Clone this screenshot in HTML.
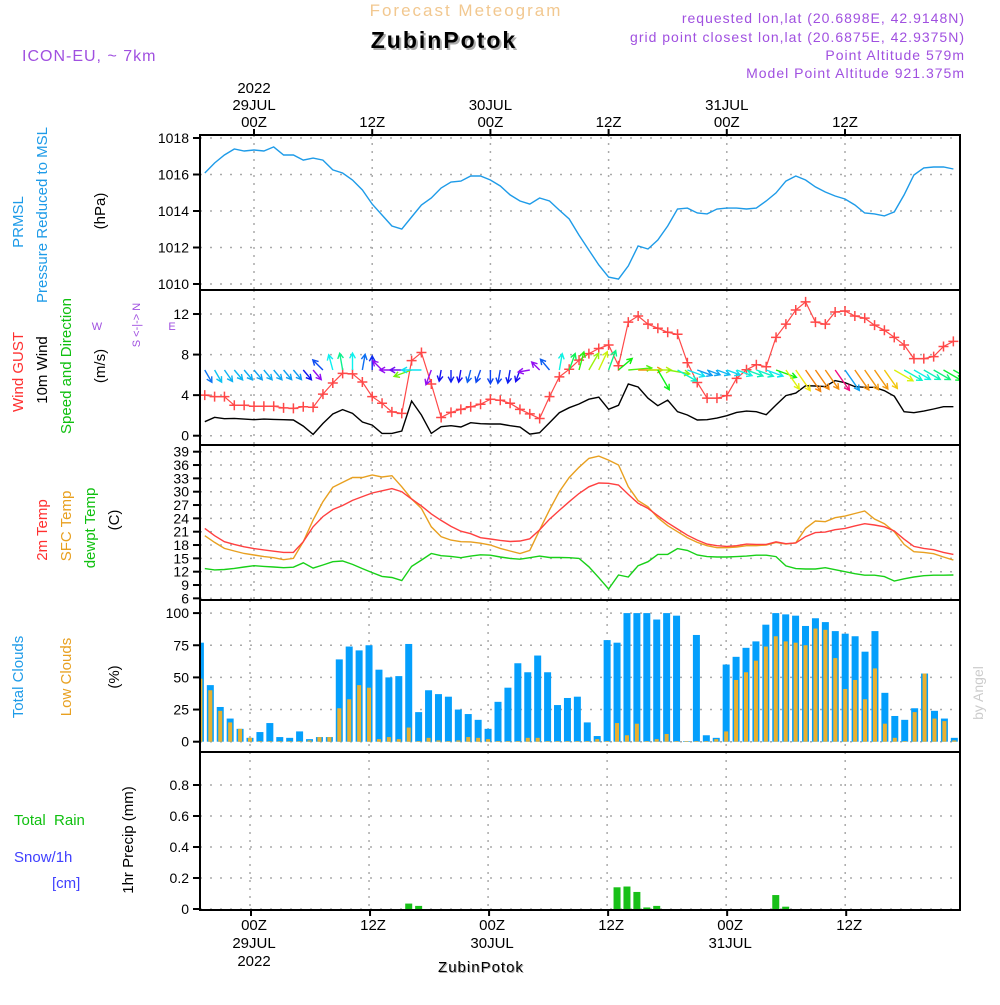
<!DOCTYPE html>
<html><head><meta charset="utf-8"><style>
body{margin:0;background:#fff;width:1000px;height:1000px;overflow:hidden;font-family:"Liberation Sans",sans-serif}
svg text{font-family:"Liberation Sans",sans-serif}
</style></head><body>
<svg id="chart" width="1000" height="1000" viewBox="0 0 1000 1000" xmlns="http://www.w3.org/2000/svg">
<g>
<text x="466" y="16" font-size="17" fill="#f2c890" text-anchor="middle" letter-spacing="2">Forecast Meteogram</text>
<text x="965" y="23" font-size="14" fill="#a050e0" text-anchor="end" letter-spacing="1">requested lon,lat (20.6898E, 42.9148N)</text>
<text x="965" y="42" font-size="14" fill="#a050e0" text-anchor="end" letter-spacing="1">grid point closest lon,lat (20.6875E, 42.9375N)</text>
<text x="446" y="50" font-size="23" font-weight="bold" fill="#aaa" text-anchor="middle" letter-spacing="2">ZubinPotok</text>
<text x="444" y="48" font-size="23" font-weight="bold" fill="#000" text-anchor="middle" letter-spacing="2">ZubinPotok</text>
<text x="965" y="60" font-size="14" fill="#a050e0" text-anchor="end" letter-spacing="1">Point Altitude 579m</text>
<text x="965" y="78" font-size="14" fill="#a050e0" text-anchor="end" letter-spacing="1">Model Point Altitude 921.375m</text>
<text x="22" y="61" font-size="16" fill="#a050e0" letter-spacing="1">ICON-EU, ~ 7km</text>
<text transform="translate(983,693) rotate(-90)" font-size="14" fill="#ccc" text-anchor="middle" font-family="Liberation Serif">by Angel</text>
<text x="482" y="973" font-size="15" fill="#aaa" text-anchor="middle" letter-spacing="1">ZubinPotok</text>
<text x="481" y="972" font-size="15" fill="#000" text-anchor="middle" letter-spacing="1">ZubinPotok</text>
</g>
<g font-size="15">
<text transform="translate(23,222) rotate(-90)" fill="#1e9be8" text-anchor="middle">PRMSL</text>
<text transform="translate(47,215) rotate(-90)" fill="#1e9be8" text-anchor="middle">Pressure Reduced to MSL</text>
<text transform="translate(105,211) rotate(-90)" fill="#000" text-anchor="middle">(hPa)</text>
<text transform="translate(23,372) rotate(-90)" fill="#ff3030" text-anchor="middle">Wind GUST</text>
<text transform="translate(47,370) rotate(-90)" fill="#000" text-anchor="middle">10m Wind</text>
<text transform="translate(71,366) rotate(-90)" fill="#10c010" text-anchor="middle">Speed and Direction</text>
<text transform="translate(105,366) rotate(-90)" fill="#000" text-anchor="middle">(m/s)</text>
<text transform="translate(140,325) rotate(-90)" fill="#a050e0" font-size="11" text-anchor="middle">S &lt;-|-&gt; N</text>
<text x="97" y="330" fill="#a050e0" font-size="11" text-anchor="middle">W</text>
<text x="172" y="330" fill="#a050e0" font-size="11" text-anchor="middle">E</text>
<text transform="translate(47,530) rotate(-90)" fill="#ff3030" text-anchor="middle">2m Temp</text>
<text transform="translate(71,526) rotate(-90)" fill="#e8a020" text-anchor="middle">SFC Temp</text>
<text transform="translate(95,528) rotate(-90)" fill="#10c010" text-anchor="middle">dewpt Temp</text>
<text transform="translate(119,520) rotate(-90)" fill="#000" text-anchor="middle">(C)</text>
<text transform="translate(23,677) rotate(-90)" fill="#1e9be8" text-anchor="middle">Total Clouds</text>
<text transform="translate(71,677) rotate(-90)" fill="#e8a020" text-anchor="middle">Low Clouds</text>
<text transform="translate(119,677) rotate(-90)" fill="#000" text-anchor="middle">(%)</text>
<text x="14" y="825" fill="#10c010" xml:space="preserve">Total  Rain</text>
<text x="14" y="862" fill="#4040ff">Snow/1h</text>
<text x="52" y="888" fill="#4040ff">[cm]</text>
<text transform="translate(133,840) rotate(-90)" fill="#000" text-anchor="middle">1hr Precip (mm)</text>
</g>
<g id="plots"></g>
</svg>
<script>
const pressure=[1016.08,1016.63,1017.07,1017.40,1017.29,1017.34,1017.29,1017.51,1017.07,1017.07,1016.79,1016.90,1016.79,1016.25,1016.08,1015.70,1015.15,1014.38,1013.78,1013.18,1013.01,1013.67,1014.33,1014.71,1015.26,1015.59,1015.64,1015.92,1015.92,1015.70,1015.37,1014.88,1014.55,1014.38,1014.71,1014.55,1014.05,1013.56,1012.68,1011.86,1011.04,1010.38,1010.27,1010.99,1012.08,1011.92,1012.41,1013.18,1014.11,1014.16,1013.89,1013.84,1014.11,1014.16,1014.16,1014.11,1014.16,1014.55,1014.99,1015.64,1015.92,1015.70,1015.32,1015.04,1014.82,1014.66,1014.33,1013.89,1013.84,1013.73,1013.95,1014.88,1015.97,1016.36,1016.41,1016.41,1016.30];
const gust=[4.0,3.85,3.85,3.0,3.0,2.9,2.9,2.9,2.75,2.7,2.85,2.8,4.1,5.2,6.15,6.1,5.3,3.85,3.2,2.35,2.2,7.4,8.2,5.1,1.8,2.3,2.6,2.85,3.1,3.6,3.5,3.2,2.6,2.15,1.7,3.85,5.8,6.55,7.45,8.1,8.6,8.95,6.9,11.2,11.8,11.0,10.6,10.2,10.0,7.2,5.25,3.7,3.7,3.95,5.65,6.5,7.0,6.8,9.7,11.0,12.4,13.2,11.2,11.0,12.2,12.3,11.8,11.6,10.9,10.4,9.7,8.95,7.6,7.6,7.8,8.8,9.3];
const wind10=[1.38,1.81,1.68,1.71,1.64,1.58,1.64,1.61,1.58,1.55,0.95,0.13,1.2,2.14,2.57,2.2,1.35,1.05,0.23,0.23,0.46,3.42,2.04,0.23,0.89,0.99,0.86,1.28,1.18,1.15,1.15,0.99,0.86,0.16,0.3,1.28,2.27,2.76,3.13,3.6,3.8,2.6,3.0,5.1,4.8,3.7,2.96,3.5,2.37,2.04,1.55,1.58,1.74,1.97,2.3,2.43,2.37,2.07,3.03,3.95,4.2,4.93,4.9,4.84,5.43,5.23,4.84,4.77,4.77,4.44,3.9,2.37,2.27,2.43,2.63,2.86,2.86];
const windDir=[330,330,325,320,320,320,320,320,320,320,320,320,135,165,170,180,190,180,135,90,90,70,90,20,10,0,10,15,20,0,10,10,20,80,135,140,190,200,195,210,205,200,230,265,270,270,330,280,300,290,290,290,290,290,290,290,290,290,290,325,325,325,325,325,325,325,325,325,325,325,300,300,300,300,300,300,300];
const t2m=[21.75,20.1,18.75,18.15,17.6,17.2,16.9,16.6,16.35,16.35,18.75,22.1,24.4,26.0,26.9,28.05,28.9,29.7,30.2,30.7,30.0,28.35,26.8,25.0,23.55,22.2,21.1,20.55,19.65,19.35,19.05,18.8,18.9,19.4,21.4,23.8,25.8,27.75,29.6,31.1,31.95,31.9,31.5,29.4,27.4,26.25,24.6,23.0,21.6,20.2,19.1,18.2,17.85,17.7,17.85,18.2,18.15,18.15,18.7,18.3,18.45,19.9,20.8,20.9,21.45,21.75,22.3,22.8,22.5,22.1,21.15,19.3,17.7,17.25,16.95,16.35,15.9];
const sfcT=[20.1,18.6,17.25,16.65,16.1,15.75,15.4,15.15,14.7,15.0,18.75,23.6,27.75,31.0,32.1,33.2,33.2,33.75,33.3,33.6,31.1,28.35,26.25,22.1,19.9,19.1,18.75,18.7,18.4,18.0,17.25,16.65,16.1,16.8,21.4,25.9,30.0,33.2,35.5,37.5,38.0,37.1,36.0,31.1,28.0,26.6,24.15,22.35,21.0,19.65,18.6,17.85,17.4,17.4,17.55,17.85,17.85,18.0,18.6,18.2,18.5,21.75,23.4,23.25,24.15,24.5,25.1,25.65,23.85,22.8,21.0,18.15,16.5,16.35,16.05,15.3,14.6];
const dewT=[12.7,12.4,12.5,12.75,13.05,13.35,13.2,13.05,12.9,13.0,14.0,12.8,13.5,14.25,14.4,13.65,12.7,11.8,10.95,10.7,10.0,13.2,14.6,16.1,15.6,15.45,15.15,15.5,15.8,15.7,15.3,15.0,14.8,15.15,15.5,15.2,15.2,15.15,15.0,13.1,10.65,8.1,11.25,10.8,13.35,14.25,15.9,15.9,17.2,16.8,15.75,15.4,15.3,15.3,15.4,15.5,15.7,15.7,15.4,13.3,12.7,12.6,12.6,12.9,12.45,12.0,11.55,11.2,11.2,10.9,9.9,10.4,10.8,11.1,11.2,11.2,11.25];
const totalClouds=[77,44,27,18,10,3,7.5,14.5,3.6,3,8,2,3.6,3.6,64,74,71,75,56,50,51,76,23,40,37,35,25,21.5,17,10,31,42,61,54,67,54,28.5,34,35,15,4.4,79,77,100,100,100,95,100,98,0.5,83,5,3,60,66,73,78,91,100,99,98,90,96,93,86,84,82,70,86,38,20,17,26,53,24,18,3];
const lowClouds=[49,40,24,15,10,3,0.5,0.5,0.5,0.5,0.5,1,3.6,3.6,26,33,44,42,2,3.6,2,11,0.5,3,1,0.5,1,3.6,3,2,0.5,0.5,0.5,3,3,0.5,0.5,0.5,0.5,0.5,2,0.5,14.5,5,14,0.5,2,6,0.5,0.5,0.5,0.5,2,8,48,54,63,74,82,78,77,75,88,87,65,41,48,33,57,14,3,0.5,23,53,18,16,1];
const precipHours=[16,17,37,38,39,40,41,53,54];
const precipVals=[0.035,0.02,0.14,0.145,0.11,0.01,0.02,0.09,0.015];
const pressTicks=[1010,1012,1014,1016,1018];
const windTicks=[0,4,8,12];
const tempTicks=[6,9,12,15,18,21,24,27,30,33,36,39];
const cloudTicks=[0,25,50,75,100];
const precipTicks=[0,0.2,0.4,0.6,0.8];
const timeLabels=[["00Z","29JUL","2022"],["12Z"],["00Z","30JUL"],["12Z"],["00Z","31JUL"],["12Z"]];
const H0=-5;

const NS="http://www.w3.org/2000/svg";
const plots=document.getElementById('plots');
function mk(tag,attrs,parent){const e=document.createElementNS(NS,tag);for(const k in attrs)e.setAttribute(k,attrs[k]);(parent||plots).appendChild(e);return e;}
const X0=200,X1=960;
const xl=h=>254+9.85*h;
const xb=h=>250+9.92*h;
const yP=v=>284-(v-1010)*18.25;
const yW=v=>435.7-v*10.14;
const yT=v=>451.7+(39-v)*4.444;
const yC=v=>741.7-v*1.286;
const yR=v=>909-v*155;

mk('clipPath',{id:'clipPlot'}).appendChild(document.createElementNS(NS,'rect'));
const cr=document.querySelector('#clipPlot rect');cr.setAttribute('x',X0);cr.setAttribute('y',135);cr.setAttribute('width',X1-X0);cr.setAttribute('height',775);

function grid(ticks,yf,top,bot,xf,fmt,name){
  const g=mk('g',{});
  
  
  ticks.forEach(t=>{
    const y=yf(t);
    const l=mk('line',{x1:X0,x2:X1,y1:y,y2:y,stroke:'#aaa','stroke-dasharray':'2,8','stroke-width':1.5},g);
    
    
    mk('line',{x1:193,x2:X0,y1:y,y2:y,stroke:'#000','stroke-width':2},g);
    const tx=mk('text',{x:189,y:y+5,'font-size':14,'text-anchor':'end',fill:'#000'},g);
    tx.textContent=fmt?fmt(t):t;
    
    
  });
  for(let i=0;i<6;i++){
    const x=xf(i*12);
    const l=mk('line',{x1:x,x2:x,y1:top,y2:bot,stroke:'#aaa','stroke-dasharray':'2,6','stroke-width':1.5},g);
    
    
  }
}
grid(pressTicks,yP,135,290,xl,null,'pressure');
grid(windTicks,yW,290,445,xl,null,'wind');
grid(tempTicks,yT,445,600,xl,null,'temp');
grid(cloudTicks,yC,600,752,xb,null,'clouds');
grid(precipTicks,yR,752,910,xb,t=>t===0?'0':t.toFixed(1),'precip');

function line(arr,xf,yf,color,name,w){
  const d=arr.map((v,i)=>(i?'L':'M')+xf(H0+i).toFixed(1)+','+yf(v).toFixed(1)).join('');
  const p=mk('path',{d:d,fill:'none',stroke:color,'stroke-width':w||1.4,'clip-path':'url(#clipPlot)'});
  
  
  return p;
}
line(pressure,xl,yP,'#1e9be8','pressure-line');
line(wind10,xl,yW,'#000','wind10-line');
line(gust,xl,yW,'#ff4848','gust-line',1.2);
gust.forEach((v,i)=>{
  const x=xl(H0+i),y=yW(v);
  const p=mk('path',{d:`M${x-5},${y}h10M${x},${y-5}v10`,stroke:'#ff4848','stroke-width':1.5});
  
  
});
function windColor(s){
  const stops=[[0.3,275],[1,235],[1.6,200],[2.3,175],[3,120],[3.8,70],[4.4,50],[5,28],[5.4,330]];
  let h=stops[0][1];
  for(let k=0;k<stops.length-1;k++){if(s>=stops[k][0]&&s<=stops[k+1][0]){const f=(s-stops[k][0])/(stops[k+1][0]-stops[k][0]);h=stops[k][1]+(stops[k+1][1]-stops[k][1])*f;}}
  if(s>stops[stops.length-1][0])h=330;
  return `hsl(${h},90%,50%)`;
}
windDir.forEach((d,i)=>{
  const x=xl(H0+i),y=370;
  const a=(d+180)*Math.PI/180;
  const L=9+gust[i]*1.3;
  const dx=Math.sin(a)*L,dy=-Math.cos(a)*L;
  const x2=x+dx,y2=y+dy;
  const ang=Math.atan2(dy,dx);
  const hx1=x2-6*Math.cos(ang-0.5),hy1=y2-6*Math.sin(ang-0.5);
  const hx2=x2-6*Math.cos(ang+0.5),hy2=y2-6*Math.sin(ang+0.5);
  const c=windColor(wind10[i]);
  const p=mk('path',{d:`M${x},${y}L${x2},${y2}M${hx1},${hy1}L${x2},${y2}L${hx2},${hy2}`,stroke:c,'stroke-width':1.4,fill:'none','clip-path':'url(#clipPlot)'});
  
  
});
line(sfcT,xl,yT,'#e8a020','sfc-temp-line');
line(t2m,xl,yT,'#ff4040','t2m-line');
line(dewT,xl,yT,'#18d018','dewpt-line');
totalClouds.forEach((v,i)=>{
  const x=xb(H0+i);
  const r=mk('rect',{x:x-3.5,y:yC(v),width:7,height:yC(0)-yC(v),fill:'#049ffc','clip-path':'url(#clipPlot)'});
  
  
  const l=lowClouds[i];
  const r2=mk('rect',{x:x-2,y:yC(l),width:4,height:yC(0)-yC(l),fill:'#e8b030','clip-path':'url(#clipPlot)'});
  
  
});
precipHours.forEach((h,i)=>{
  const x=xb(h),v=precipVals[i];
  const r=mk('rect',{x:x-3.5,y:yR(v),width:7,height:yR(0)-yR(v),fill:'#18c018'});
  
  
});
[[135,290],[290,445],[445,600],[600,752],[752,910]].forEach(([a,b])=>{
  const r=mk('rect',{x:X0,y:a,width:X1-X0,height:b-a,fill:'none',stroke:'#000','stroke-width':2});
  
  
});
timeLabels.forEach((lab,i)=>{
  const xt=xl(i*12),xbt=xb(i*12)+4;
  mk('line',{x1:xt,x2:xt,y1:129,y2:135,stroke:'#000','stroke-width':2});
  mk('line',{x1:xbt-3,x2:xbt-3,y1:910,y2:916,stroke:'#000','stroke-width':2});
  lab.forEach((s,k)=>{
    const t=mk('text',{x:xt,y:127-k*17,'font-size':15,'text-anchor':'middle',fill:'#000'});
    t.textContent=s;
    
    
  });
  lab.forEach((s,k)=>{
    const t=mk('text',{x:xbt,y:930+k*18,'font-size':15,'text-anchor':'middle',fill:'#000'});
    t.textContent=s;
    
    
  });
});
</script>
</body></html>
